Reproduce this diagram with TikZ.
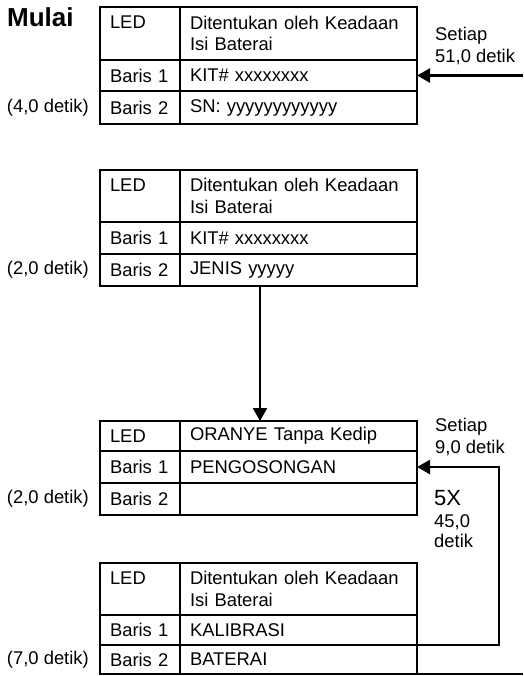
\documentclass[tikz,border=0pt]{standalone}
\usepackage{fontspec}
\setmainfont{Liberation Sans}
\usetikzlibrary{arrows.meta}
\newcommand\myfs{\fontsize{18.4}{21.7}\selectfont}
\begin{document}
\begin{tikzpicture}[x=1pt,y=-1pt,
  cell/.style={draw,line width=2.4pt,anchor=north west,outer sep=0pt,inner xsep=10pt,inner ysep=0pt,align=left,font=\myfs},
  lc/.style={cell,minimum width=80pt,text width=60pt},
  rc/.style={cell,minimum width=237pt,text width=217pt},
  lbl/.style={inner sep=0pt,align=left,font=\myfs},
  conn/.style={line width=2.4pt},
  arr/.style={conn,-{Triangle[length=13pt,width=14pt]}}]
\useasboundingbox (0,0) rectangle (523,676);

% Table 1
\node[lc,minimum height=53pt] (t1a) at (100,7) {LED\\\phantom{Isi Baterai}};
\node[rc,minimum height=53pt] (t1b) at (180,7) {Ditentukan oleh Keadaan\\Isi Baterai};
\node[lc,minimum height=31pt] (t1c) at (100,60) {Baris 1};
\node[rc,minimum height=31pt] (t1d) at (180,60) {KIT\# xxxxxxxx};
\node[lc,minimum height=33pt] (t1e) at (100,91) {Baris 2};
\node[rc,minimum height=33pt] (t1f) at (180,91) {SN: yyyyyyyyyyyy};

% Table 2
\node[lc,minimum height=52pt] (t2a) at (100,170) {LED\\\phantom{Isi Baterai}};
\node[rc,minimum height=52pt] (t2b) at (180,170) {Ditentukan oleh Keadaan\\Isi Baterai};
\node[lc,minimum height=32pt] (t2c) at (100,222) {Baris 1};
\node[rc,minimum height=32pt] (t2d) at (180,222) {KIT\# xxxxxxxx};
\node[lc,minimum height=32pt] (t2e) at (100,254) {Baris 2};
\node[rc,minimum height=32pt] (t2f) at (180,254) {JENIS yyyyy};

% Table 3
\node[lc,minimum height=30pt] (t3a) at (100,421) {LED};
\node[rc,minimum height=30pt] (t3b) at (180,421) {ORANYE Tanpa Kedip};
\node[lc,minimum height=32pt] (t3c) at (100,451) {Baris 1};
\node[rc,minimum height=32pt] (t3d) at (180,451) {PENGOSONGAN};
\node[lc,minimum height=32pt] (t3e) at (100,483) {Baris 2};
\node[rc,minimum height=32pt] (t3f) at (180,483) {};

% Table 4
\node[lc,minimum height=52pt] (t4a) at (100,563) {LED\\\phantom{Isi Baterai}};
\node[rc,minimum height=52pt] (t4b) at (180,563) {Ditentukan oleh Keadaan\\Isi Baterai};
\node[lc,minimum height=30pt] (t4c) at (100,615) {Baris 1};
\node[rc,minimum height=30pt] (t4d) at (180,615) {KALIBRASI};
\node[lc,minimum height=29pt] (t4e) at (100,645) {Baris 2};
\node[rc,minimum height=29pt] (t4f) at (180,645) {BATERAI};

% Labels
\node[inner sep=0pt,anchor=base west,font=\bfseries\fontsize{26}{30}\selectfont] (mulai) at (7,27) {Mulai};
\node[lbl,anchor=east] (d1) at ([xshift=-11pt]t1e.west) {(4,0 detik)};
\node[lbl,anchor=east] (d2) at ([xshift=-11pt]t2e.west) {(2,0 detik)};
\node[lbl,anchor=east] (d3) at ([xshift=-11pt]t3e.west) {(2,0 detik)};
\node[lbl,anchor=east] (d4) at ([xshift=-11pt]t4e.west) {(7,0 detik)};
\node[lbl,anchor=west] (s1) at (435,46) {Setiap\\51,0 detik};
\node[lbl,anchor=west] (s2) at (435,437) {Setiap\\9,0 detik};
\node[inner sep=0pt,anchor=west,font=\fontsize{22}{24}\selectfont] (x5) at (434,498) {5X};
\node[lbl,anchor=west,font=\fontsize{18.4}{19.5}\selectfont] (s3) at (434,531) {45,0\\detik};

% Connectors
\coordinate (e1) at ([xshift=106pt]t1d.east);
\draw[arr] (e1) -- (t1d.east);
\draw[arr] ([xshift=80pt]t2f.south west) -- ([xshift=80pt]t3b.north west);
\draw[arr] (t4d.south east) -- ++(82,0) |- (t3d.east);
\coordinate (e2) at ([xshift=106pt]t4f.south east);
\draw[conn] (t4f.south east) -- (e2);
\end{tikzpicture}
\end{document}
